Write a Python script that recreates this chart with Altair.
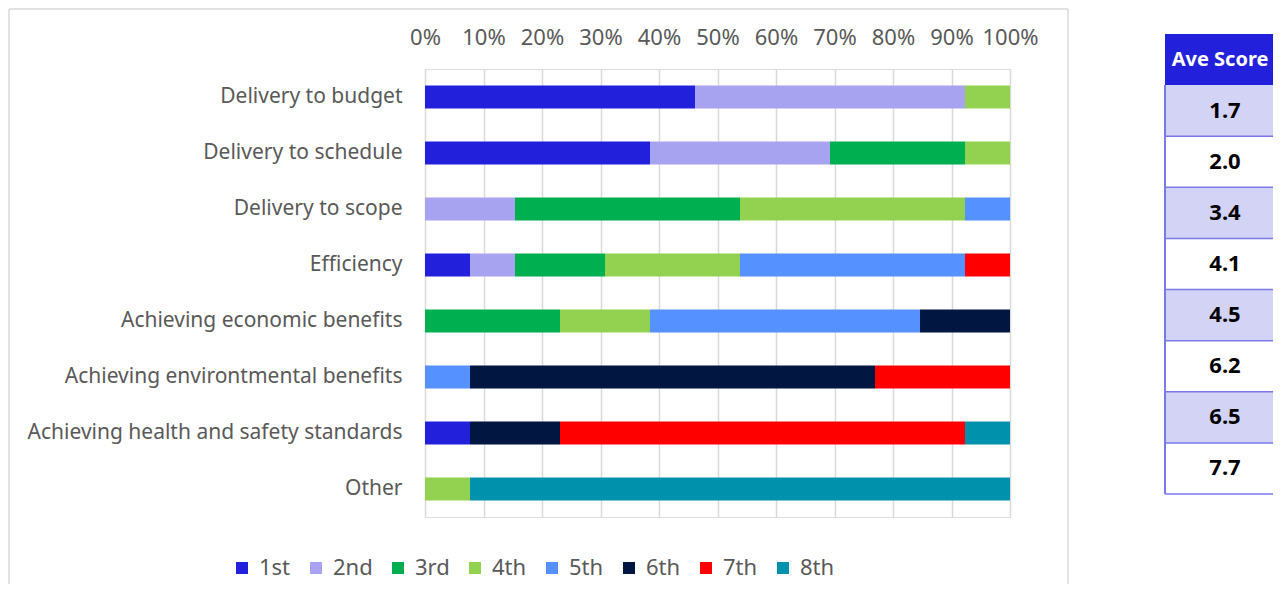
import altair as alt
import pandas as pd

categories = [
    "Delivery to budget",
    "Delivery to schedule",
    "Delivery to scope",
    "Efficiency",
    "Achieving economic benefits",
    "Achieving environtmental benefits",
    "Achieving health and safety standards",
    "Other",
]
ranks = ["1st", "2nd", "3rd", "4th", "5th", "6th", "7th", "8th"]
rank_colors = ["#2320DC", "#A7A3F0", "#00AF50", "#93D150", "#5592FF", "#021642", "#FF0000", "#0092AD"]

# respondents (of 13) placing each objective at each rank, one list per rank, in category order
count_1st = [6, 5, 0, 1, 0, 0, 1, 0]
count_2nd = [6, 4, 2, 1, 0, 0, 0, 0]
count_3rd = [0, 3, 5, 2, 3, 0, 0, 0]
count_4th = [1, 1, 5, 3, 2, 0, 0, 1]
count_5th = [0, 0, 1, 5, 6, 1, 0, 0]
count_6th = [0, 0, 0, 0, 2, 9, 2, 0]
count_7th = [0, 0, 0, 1, 0, 3, 9, 0]
count_8th = [0, 0, 0, 0, 0, 0, 1, 12]

table_header = "Ave Score"
ave_scores = ["1.7", "2.0", "3.4", "4.1", "4.5", "6.2", "6.5", "7.7"]

FONT = "Noto Sans"
GREY = "#595959"

all_counts = [count_1st, count_2nd, count_3rd, count_4th, count_5th, count_6th, count_7th, count_8th]
rows = []
for ri, (rk, cl) in enumerate(zip(ranks, all_counts)):
    for cat, c in zip(categories, cl):
        if c > 0:
            rows.append({"category": cat, "rank": rk, "rank_idx": ri, "count": c})
df = pd.DataFrame(rows)

bars = alt.Chart(df).mark_bar(size=23).encode(
    x=alt.X(
        "count:Q",
        stack="normalize",
        scale=alt.Scale(domain=[0, 1]),
        axis=alt.Axis(
            orient="top", format="%", tickCount=10, title=None,
            domain=False, ticks=False, grid=True, gridColor="#D9D9D9", gridWidth=1.5,
            labelFontSize=22, labelColor=GREY, labelPadding=20, labelFont=FONT,
            labelOverlap=False, labelFlush=False,
        ),
    ),
    y=alt.Y(
        "category:N",
        sort=categories,
        scale=alt.Scale(paddingInner=0, paddingOuter=0),
        axis=alt.Axis(
            title=None, domain=False, ticks=False, labelFontSize=21, labelColor=GREY,
            labelPadding=23, labelLimit=0, labelFont=FONT,
        ),
    ),
    color=alt.Color(
        "rank:N",
        scale=alt.Scale(domain=ranks, range=rank_colors),
        legend=alt.Legend(
            orient="none", legendX=-194, legendY=488, direction="horizontal", title=None,
            symbolType="square", symbolSize=144, symbolStrokeWidth=0, labelFontSize=22,
            labelColor=GREY, labelFont=FONT, columnPadding=14, labelOffset=6, padding=0,
        ),
    ),
    order=alt.Order("rank_idx:Q"),
)

one = pd.DataFrame({"a": [0]})
border_style = dict(color="#D9D9D9", strokeWidth=1.5)
b_left = alt.Chart(one).mark_rule(**border_style).encode(
    x=alt.value(-416), y=alt.value(-60), y2=alt.value(515))
b_right = alt.Chart(one).mark_rule(**border_style).encode(
    x=alt.value(643), y=alt.value(-60), y2=alt.value(515))
b_top = alt.Chart(one).mark_rule(**border_style).encode(
    x=alt.value(-416), x2=alt.value(643), y=alt.value(-60))

# score table
tbl = pd.DataFrame({"label": [table_header] + ave_scores})
tx = alt.Scale(domain=[0, 1], range=[740, 848])
ty = alt.Scale(domain=[0, 9], range=[-35, 425])

tbase = alt.Chart(tbl).transform_window(idx="row_number()").transform_calculate(
    i0="datum.idx - 1",
    i1="datum.idx",
    mid="datum.idx - 0.5",
    kind="datum.idx == 1 ? 'header' : (datum.idx % 2 == 0 ? 'shade' : 'plain')",
)

t_fill = tbase.mark_rect().encode(
    x=alt.XDatum(0, scale=tx, axis=None),
    x2=alt.X2Datum(1),
    y=alt.Y("i0:Q", scale=ty, axis=None),
    y2="i1:Q",
    fill=alt.Fill("kind:N", scale=alt.Scale(domain=["header", "shade", "plain"],
                                            range=["#2320DC", "#D3D3F5", "#FFFFFF"]), legend=None),
)
t_lines = tbase.mark_rule(color="#7B79E8", strokeWidth=1.5).transform_filter("datum.idx >= 2").encode(
    x=alt.XDatum(0, scale=tx, axis=None),
    x2=alt.X2Datum(1),
    y=alt.Y("i1:Q", scale=ty, axis=None),
)
t_left = tbase.mark_rule(color="#7B79E8", strokeWidth=2).transform_filter("datum.idx == 1").encode(
    x=alt.XDatum(0, scale=tx, axis=None),
    y=alt.YDatum(1, scale=ty, axis=None),
    y2=alt.Y2Datum(9),
)
t_head = tbase.mark_text(fontWeight="bold", fontSize=20, color="#FFFFFF", font=FONT, dx=1).transform_filter(
    "datum.idx == 1").encode(
    x=alt.XDatum(0.5, scale=tx, axis=None),
    y=alt.Y("mid:Q", scale=ty, axis=None),
    text="label:N",
)
t_vals = tbase.mark_text(fontWeight="bold", fontSize=22, color="#000000", font=FONT, dx=6).transform_filter(
    "datum.idx >= 2").encode(
    x=alt.XDatum(0.5, scale=tx, axis=None),
    y=alt.Y("mid:Q", scale=ty, axis=None),
    text="label:N",
)

chart = alt.layer(
    bars, b_left, b_right, b_top, t_fill, t_lines, t_left, t_head, t_vals
).resolve_scale(
    x="independent", y="independent"
).properties(
    width=585, height=448, padding=0
).configure_view(stroke=None).configure(font=FONT)

chart.save("out.html", embed_options={"renderer": "svg", "actions": False})
